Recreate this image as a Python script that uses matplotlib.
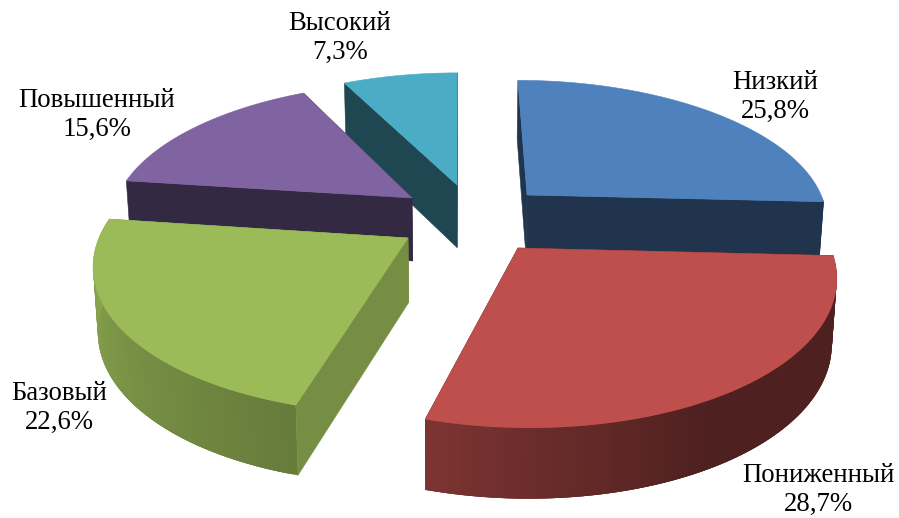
#!/usr/bin/env python3
"""Exploded 3D pie: perspective done by hand, matplotlib has no such pie."""
import numpy as np
import matplotlib
matplotlib.use("Agg")
import matplotlib.pyplot as plt
from matplotlib.patches import Polygon

plt.rcParams["font.family"] = ["Liberation Serif", "DejaVu Serif"]

categories = ["Низкий", "Пониженный", "Базовый", "Повышенный", "Высокий"]
values = [25.8, 28.7, 22.6, 15.6, 7.3]
value_labels = ["25,8%", "28,7%", "22,6%", "15,6%", "7,3%"]

top_colors = ["#4F81BD", "#BE4F4C", "#9BBB59", "#8064A2", "#4BACC6"]
wall_shade = [0.41, 0.41, 0.76, 0.41, 0.41]
# where each exploded slice has its tip, and where its label sits (pixels)
tips = [(527, 195), (518, 248), (408, 238), (412, 198), (457, 185)]
label_xy = [(775, 97), (818, 490), (59, 408), (97, 115), (340, 38)]
draw_order = [4, 0, 3, 2, 1]

# projection constants
X0, Y0 = 460, 212
A, B, K = 300, 138, 0.16
DEPTH = 63.5
BOTTOM_SQUEEZE = 0.987


def project(x, y, bottom=False):
    s = 1 + K * y
    sx = X0 + A * x / s
    sy = Y0 - B * y / s
    if bottom:
        sx = X0 + (sx - X0) * BOTTOM_SQUEEZE
        sy = sy + DEPTH / np.sqrt(s)
    return sx, sy


def unproject(sx, sy):
    t = (Y0 - sy) / B
    y = t / (1 - K * t)
    x = (sx - X0) * (1 + K * y) / A
    return x, y


def shaded(color, f):
    return tuple(c * f for c in matplotlib.colors.to_rgb(color))


def wall_factor(deg):
    # outer wall gets darker towards the right side of the front
    return np.interp(deg, [150, 196, 265], [0.41, 0.66, 0.88])


fig = plt.figure(figsize=(8.99, 5.18), dpi=100)
ax = fig.add_axes([0, 0, 1, 1])
ax.set_xlim(0, 899)
ax.set_ylim(518, 0)
ax.axis("off")

edges = np.cumsum([0] + values) / sum(values) * 360

for i in draw_order:
    tx, ty = unproject(*tips[i])
    angles = np.linspace(edges[i], edges[i + 1], 90)
    rad = np.radians(angles)
    xs = tx + np.sin(rad)
    ys = ty + np.cos(rad)
    top = [project(x, y) for x, y in zip(xs, ys)]
    low = [project(x, y, True) for x, y in zip(xs, ys)]
    apex = project(tx, ty)
    apex_low = project(tx, ty, True)
    wall = shaded(top_colors[i], wall_shade[i])

    # flat cut faces first, then the curved wall, then the lid
    for end in (0, -1):
        ax.add_patch(Polygon([apex, top[end], low[end], apex_low], fc=wall, ec=wall, lw=0.4))
    n = len(angles)
    # each strip overlaps the next so no seams show
    for j in range(n - 1):
        if 90 <= angles[j] <= 270 or i == 2:
            k = min(j + 3, n - 1)
            c = shaded(top_colors[i], wall_factor(angles[j]))
            ax.add_patch(Polygon([top[j], top[k], low[k], low[j]], fc=c, ec="none"))
    ax.add_patch(Polygon([apex] + top, fc=top_colors[i], ec=top_colors[i], lw=0.4))

for name, val, (lx, ly) in zip(categories, value_labels, label_xy):
    ax.text(lx, ly, f"{name}\n{val}", ha="center", va="center", fontsize=19.3, color="black", linespacing=1.2)

fig.savefig("out.png", dpi=100, facecolor="white")
